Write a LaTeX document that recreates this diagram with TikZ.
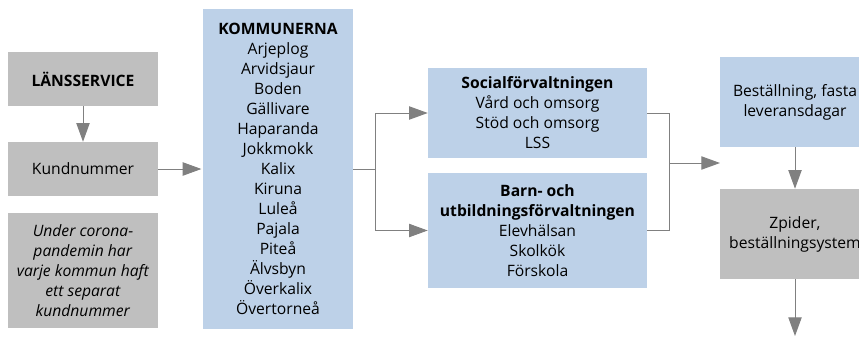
\documentclass[tikz,border=0pt]{standalone}
\usepackage{fontspec}
\setmainfont{Open Sans}
\usetikzlibrary{positioning}
\usetikzlibrary{arrows.meta}

\definecolor{boxgrey}{RGB}{191,191,191}
\definecolor{boxblue}{RGB}{189,209,232}
\definecolor{linegrey}{RGB}{128,128,128}

\begin{document}
\begin{tikzpicture}[
			x=0.75pt, y=-0.75pt,
			greybox/.style={fill=boxgrey, align=center, minimum width=112.5pt, minimum height=40.5pt, inner sep=2pt, font=\fontsize{11.75}{15}\selectfont},
			bluebox/.style={fill=boxblue, align=center, minimum width=112.5pt, minimum height=67.5pt, inner sep=2pt, font=\fontsize{11.75}{15}\selectfont},
			flow/.style={draw=linegrey, line width=0.75pt, -{Triangle[length=14pt, width=10pt]}},
			plain/.style={draw=linegrey, line width=0.75pt}
			]
			
			\useasboundingbox (0,0) rectangle (859,336);
			
			% Left column
			\node[greybox] (lans) at (83, 79) {\textbf{LÄNSSERVICE}};
			\node[greybox] (kund) at (83, 169) {Kundnummer};
			\node[greybox, minimum height=86.25pt] (note) at (83, 270.5) {\textit{Under corona-} \\ \textit{pandemin har} \\ \textit{varje kommun haft} \\ \textit{ett separat} \\ \textit{kundnummer}};
			
			% Municipalities
			\node[bluebox, minimum height=240pt] (kommun) at (278, 169) {\textbf{KOMMUNERNA} \\ Arjeplog \\ Arvidsjaur \\ Boden \\ Gällivare \\ Haparanda \\ Jokkmokk \\ Kalix \\ Kiruna \\ Luleå \\ Pajala \\ Piteå \\ Älvsbyn \\ Överkalix \\ Övertorneå};
			
			% Administrations
			\node[bluebox, minimum width=164.25pt] (social) at (537.5, 113) {\textbf{Socialförvaltningen} \\ Vård och omsorg \\ Stöd och omsorg \\ LSS};
			\node[bluebox, minimum width=164.25pt, minimum height=86.25pt] (barn) at (537.5, 230.5) {\textbf{Barn- och} \\ \textbf{utbildningsförvaltningen} \\ Elevhälsan \\ Skolkök \\ Förskola};
			
			% Ordering
			\node[bluebox] (order) at (795, 102) {Beställning, fasta \\ leveransdagar};
			\node[greybox, minimum height=67.5pt] (zpider) at (795, 234) {Zpider, \\ beställningsystem};
			
			% Junction points
			\coordinate (split) at (375, 169);
			\coordinate (merge) at (669, 163);
			\coordinate (gap) at (720, 163);
			\coordinate (out) at (795, 336);
			
			% Connectors
			\draw[flow] (lans.south) -- (kund.north);
			\draw[flow, shorten >=1pt] (kund.east) -- (kommun.west);
			\draw[plain] (kommun.east) -- (split);
			\draw[flow] (split) |- (social.west);
			\draw[flow] (split) |- (barn.west);
			\draw[plain] (social.east) -| (merge);
			\draw[plain] (barn.east) -| (merge);
			\draw[flow] (merge) -- (gap);
			\draw[flow] (order.south) -- (zpider.north);
			\draw[flow] (zpider.south) -- (out);
			
		\end{tikzpicture}
\end{document}
